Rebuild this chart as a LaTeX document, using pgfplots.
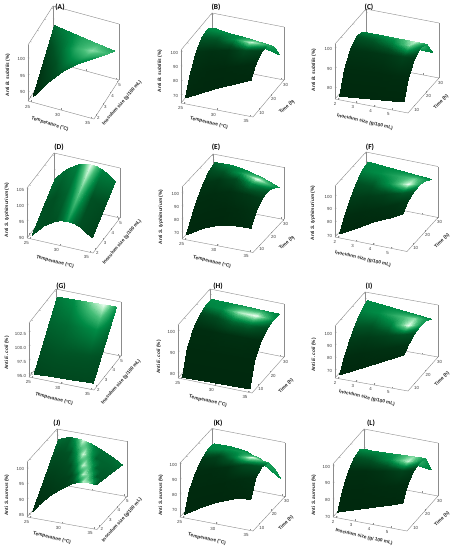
\documentclass[border=0pt]{standalone}
\usepackage{fontspec}
\setmainfont{Liberation Sans}
\newfontfamily\tfont{Carlito}
\usepackage{pgfplots}
\usepgfplotslibrary{patchplots}
\pgfplotsset{compat=1.18}
\definecolor{axg}{RGB}{140,140,140}
\pgfplotsset{
  colormap={grn}{rgb255(0)=(0,38,12) rgb255(30)=(0,80,35) rgb255(55)=(0,140,70) rgb255(75)=(70,190,120) rgb255(90)=(170,235,190) rgb255(100)=(240,255,245)},
  rs/.style n args={9}{
    at={(#1pt,550pt-#2pt)},anchor=origin,
    x={(#3pt/\xspan,-#4pt/\xspan)},y={(#5pt/\yspan,#6pt/\yspan)},z={(0pt,#7pt/(#9-#8))},
    zmin=#8,zmax=#9,
    clip=false,grid=none,colormap name=grn,point meta min=0,point meta max=1,
    axis line style={axg,line width=0.4pt},
    tick style={axg,line width=0.3pt},
    major tick length=1.6pt,
    xtick pos=left,ytick pos=left,ztick pos=left,
    tick label style={font=\fontsize{4.4}{5}\selectfont,text=black!75,inner sep=0.8pt},
    xticklabel style={xshift=-2.5pt,yshift=-1.5pt},
    zticklabel style={xshift=-2pt},
    /pgf/number format/assume math mode=true,
  },
  T/.style={xmin=24.5,xmax=35.5,xtick={25,30,35}},
  I/.style={xmin=1.8,xmax=5.9,xtick={2,3,4,5}},
  Iy/.style={ymin=1.7,ymax=5.2,ytick={2,3,4,5}},
  H/.style={ymin=5,ymax=31,ytick={10,20,30}},
  sf/.style={surf,shader=interp,patch type=bilinear,point meta=explicit,mesh/ordering=y varies,mesh/rows=6,mesh/cols=5},
  sx/.style={surf,shader=interp,patch type=bilinear,point meta=explicit,mesh/rows=#1},
}
\newcommand\Lab[4]{\node[rotate=#3,inner sep=0pt,text=black!85] at (#1pt,550pt-#2pt) {\fontsize{4.8}{5.5}\selectfont\bfseries #4};}
\newcommand\Ttl[3]{\node[inner sep=0pt] at (#1pt,550pt-#2pt) {\tfont\fontsize{7.5}{8}\selectfont\bfseries #3};}
\begin{document}
\begin{tikzpicture}
\path[use as bounding box,fill=white] (0pt,0pt) rectangle (455pt,550pt);
% A
\def\xspan{11}\def\yspan{3.5}
\begin{axis}[rs={28}{101}{66}{18}{25}{39}{56}{87}{103.8},T,Iy,ztick={90,95,100}]
\addplot3[sx=4,mesh/cols=5] table[meta index=3]{
25 2 87.5 .03
27.5 2 93.0 .18
30 2 97.6 .35
32.5 2 101.1 .5
35 2 103.8 .58
25 3 91.2 .10
27.5 3 94.7 .28
30 3 97.5 .52
32.5 3 99.7 .68
35 3 101.2 .68
25 4 95.1 .22
27.5 4 96.4 .42
30 4 97.5 .68
32.5 4 98.2 .85
35 4 98.6 .72
25 5 98.8 .42
27.5 5 98.1 .52
30 5 97.4 .65
32.5 5 96.7 .72
35 5 96.1 .62
};
\end{axis}
% B
\def\xspan{11}\def\yspan{26}
\begin{axis}[rs={181}{103}{72}{14}{31}{37}{53}{64}{101},T,H,ztick={70,80,90,100}]
\addplot3[sf] table[meta index=3]{
25 6 67.0 .02
25 10 79.2 .05
25 15 89.9 .10
25 20 95.5 .35
25 25 96.2 .55
25 30 91.8 .55
27.5 6 72.7 .02
27.5 10 83.6 .03
27.5 15 92.7 .08
27.5 20 96.7 .35
27.5 25 95.8 .55
27.5 30 89.9 .55
30 6 78.4 .02
30 10 88.1 .03
30 15 95.5 .10
30 20 98.0 .55
30 25 95.5 .55
30 30 88.1 .55
32.5 6 83.2 .02
32.5 10 91.6 .04
32.5 15 97.3 .25
32.5 20 98.2 .95
32.5 25 94.2 .7
32.5 30 85.1 .55
35 6 88.2 .02
35 10 95.1 .05
35 15 99.2 .20
35 20 98.4 .65
35 25 92.9 .6
35 30 82.1 .5
};
\end{axis}
% C
\def\xspan{4.1}\def\yspan{26}
\begin{axis}[rs={335}{99}{73}{14}{31}{35}{55}{74}{101.8},I,H,ztick={80,90,100}]
\addplot3[sf] table[meta index=3]{
2 6 75.1 .02
2 10 85.7 .04
2 15 92.3 .1
2 20 95.4 .3
2 25 94.6 .5
2 30 87.9 .55
3 6 76.0 .02
3 10 86.3 .04
3 15 92.8 .1
3 20 95.6 .35
3 25 94.6 .55
3 30 87.7 .55
4 6 76.9 .02
4 10 86.9 .04
4 15 93.2 .12
4 20 95.8 .5
4 25 94.6 .65
4 30 87.5 .55
5 6 77.8 .02
5 10 87.5 .05
5 15 93.7 .2
5 20 96.1 .85
5 25 94.6 .95
5 30 87.2 .55
5.6 6 78.4 .02
5.6 10 87.9 .05
5.6 15 94.0 .15
5.6 20 96.2 .5
5.6 25 94.6 .6
5.6 30 87.1 .5
};
\end{axis}
% D
\def\xspan{11}\def\yspan{3.5}
\begin{axis}[rs={27}{238}{66}{15}{27}{35}{50}{89.5}{105.2},T,Iy,ztick={90,95,100,105}]
\addplot3[sx=3,mesh/cols=8] table[meta index=3]{
25 2 89.7 .3
27 2 93.5 .28
29 2 95.8 .3
30 2 96.3 .4
31 2 96.5 .6
32 2 96.3 .4
33 2 95.6 .28
35 2 93.1 .2
25 3.5 93.9 .3
27 3.5 97.7 .3
29 3.5 100.0 .38
30 3.5 100.5 .55
31 3.5 100.7 .8
32 3.5 100.5 .55
33 3.5 99.8 .3
35 3.5 97.3 .25
25 5 98.0 .42
27 5 101.8 .42
29 5 104.1 .5
30 5 104.6 .75
31 5 104.8 1
32 5 104.6 .75
33 5 103.9 .5
35 5 101.4 .45
};
\end{axis}
% E
\def\xspan{11}\def\yspan{26}
\begin{axis}[rs={182}{239}{71}{13.5}{31}{33}{52}{64.4}{104.4},T,H,ztick={70,80,90,100}]
\addplot3[sf] table[meta index=3]{
25 6 67.0 .02
25 10 75.6 .03
25 15 85.2 .05
25 20 92.4 .1
25 25 97.2 .25
25 30 99.2 .4
27.5 6 74.4 .02
27.5 10 83.2 .03
27.5 15 92.0 .05
27.5 20 97.6 .12
27.5 25 100.0 .35
27.5 30 99.6 .55
30 6 79.2 .02
30 10 88.4 .03
30 15 96.0 .07
30 20 100.4 .25
30 25 100.4 .6
30 30 97.6 .55
32.5 6 81.2 .03
32.5 10 90.0 .05
32.5 15 96.4 .12
32.5 20 99.6 .55
32.5 25 98.0 1
32.5 30 94.0 .65
35 6 81.6 .05
35 10 89.6 .08
35 15 94.8 .15
35 20 96.4 .35
35 25 94.0 .55
35 30 89.2 .55
};
\end{axis}
% F
\def\xspan{4.1}\def\yspan{26}
\begin{axis}[rs={335}{237}{72}{14.5}{31}{34}{51}{68}{107},I,H,ztick={70,80,90,100}]
\addplot3[sf] table[meta index=3]{
2 6 70.0 .02
2 10 78.9 .05
2 15 87.5 .15
2 20 94.5 .3
2 25 99.2 .5
2 30 100.8 .55
3 6 77.0 .02
3 10 84.8 .05
3 15 91.8 .15
3 20 96.9 .35
3 25 99.6 .55
3 30 99.8 .55
4 6 84.8 .03
4 10 90.5 .07
4 15 95.9 .2
4 20 99.2 .6
4 25 100.3 .65
4 30 98.8 .55
5 6 90.6 .05
5 10 96.5 .1
5 15 100.0 .35
5 20 101.5 1
5 25 100.8 .8
5 30 97.8 .55
5.6 6 94.9 .08
5.6 10 100.0 .15
5.6 15 102.7 .35
5.6 20 103.1 .65
5.6 25 101.2 .6
5.6 30 97.3 .5
};
\end{axis}
% G
\def\xspan{11}\def\yspan{3.5}
\begin{axis}[rs={29}{377}{65}{13}{27}{34}{54}{94.4}{104},T,Iy,ztick={95,97.5,100,102.5},zticklabel style={/pgf/number format/fixed,/pgf/number format/precision=1,/pgf/number format/zerofill}]
\addplot3[sx=4,mesh/cols=5] table[meta index=3]{
25 2 94.5 .22
28 2 94.7 .24
31 2 94.8 .24
33 2 94.9 .24
35 2 95.0 .24
25 3 97.3 .3
28 3 97.5 .32
31 3 97.6 .32
33 3 97.7 .32
35 3 97.8 .3
25 4 100.2 .38
28 4 100.3 .41
31 4 100.4 .5
33 4 100.5 .55
35 4 100.6 .42
25 5 103.0 .46
28 5 103.1 .56
31 5 103.2 .85
33 5 103.3 1
35 5 103.3 .6
};
\end{axis}
% H
\def\xspan{11}\def\yspan{26}
\begin{axis}[rs={178}{378}{74}{15}{32}{36}{53}{77.5}{102.5},T,H,ztick={80,90,100}]
\addplot3[sf] table[meta index=3]{
25 6 77.5 .02
25 10 88.8 .03
25 15 94.5 .05
25 20 97.5 .2
25 25 98.8 .5
25 30 98.5 .55
27.5 6 77.8 .02
27.5 10 89.0 .03
27.5 15 94.6 .05
27.5 20 97.5 .25
27.5 25 98.7 .55
27.5 30 98.4 .55
30 6 78.0 .02
30 10 89.1 .03
30 15 94.8 .07
30 20 97.5 .4
30 25 98.6 .9
30 30 98.3 .6
32.5 6 78.2 .02
32.5 10 89.3 .03
32.5 15 94.9 .07
32.5 20 97.5 .4
32.5 25 98.6 1
32.5 30 98.1 .6
35 6 78.5 .02
35 10 89.5 .03
35 15 95.0 .05
35 20 97.5 .25
35 25 98.5 .55
35 30 98.0 .5
};
\end{axis}
% I
\def\xspan{4.1}\def\yspan{26}
\begin{axis}[rs={335}{378}{73}{13}{30}{34}{52}{63}{105},I,H,ztick={70,80,90,100}]
\addplot3[sf] table[meta index=3]{
2 6 64.9 .02
2 10 74.8 .05
2 15 84.0 .15
2 20 91.6 .35
2 25 96.6 .5
2 30 99.5 .55
3 6 72.0 .02
3 10 80.2 .05
3 15 87.8 .15
3 20 93.6 .35
3 25 97.0 .55
3 30 97.9 .55
4 6 78.9 .03
4 10 85.4 .07
4 15 91.4 .2
4 20 95.5 .5
4 25 97.3 .7
4 30 96.3 .55
5 6 86.0 .04
5 10 90.8 .09
5 15 95.2 .3
5 20 97.4 1
5 25 97.7 .85
5 30 94.7 .55
5.6 6 90.3 .06
5.6 10 94.1 .12
5.6 15 97.4 .3
5.6 20 98.7 .6
5.6 25 97.9 .6
5.6 30 93.7 .5
};
\end{axis}
% J
\def\xspan{11}\def\yspan{3.5}
\begin{axis}[rs={27}{517}{70}{12.5}{30}{33}{55}{84}{101.9},T,Iy,ztick={85,90,95,100}]
\addplot3[sx=5,mesh/cols=11] table[meta index=3]{
25 2 84.9 .05
26 2 87.6 .08
27 2 89.7 .1
28 2 91.7 .12
29 2 93.3 .15
30 2 94.7 .18
31 2 96.2 .22
32 2 97.1 .39
33 2 97.6 .92
34 2 97.6 .84
35 2 97.4 .35
25 2.75 88.5 .1
26 2.75 90.7 .13
27 2.75 92.4 .15
28 2.75 93.9 .18
29 2.75 95.1 .2
30 2.75 96.0 .22
31 2.75 96.9 .43
32 2.75 97.3 .93
33 2.75 97.5 .76
34 2.75 97.2 .35
35 2.75 96.8 .33
25 3.5 92.0 .18
26 3.5 93.8 .2
27 3.5 95.2 .22
28 3.5 96.2 .25
29 3.5 96.8 .28
30 3.5 97.2 .51
31 3.5 97.6 .95
32 3.5 97.6 .72
33 3.5 97.3 .38
34 3.5 96.8 .35
35 3.5 96.1 .35
25 4.25 95.6 .28
26 4.25 97.0 .28
27 4.25 97.9 .3
28 4.25 98.4 .32
29 4.25 98.6 .57
30 4.25 98.5 .96
31 4.25 98.3 .65
32 4.25 97.9 .38
33 4.25 97.2 .38
34 4.25 96.4 .38
35 4.25 95.4 .38
25 5 99.1 .42
26 5 100.1 .4
27 5 100.6 .38
28 5 100.6 .64
29 5 100.3 .97
30 5 99.8 .64
31 5 99.0 .45
32 5 98.1 .42
33 5 97.1 .42
34 5 96.0 .42
35 5 94.7 .45
};
\end{axis}
% K
\def\xspan{11}\def\yspan{26}
\begin{axis}[rs={180}{517}{73}{14}{32}{34.5}{54}{64.6}{100.3},T,H,ztick={70,80,90,100}]
\addplot3[sf] table[meta index=3]{
25 6 66.0 .02
25 10 78.2 .03
25 15 85.3 .05
25 20 89.6 .12
25 25 92.1 .5
25 30 91.4 .55
27.5 6 72.5 .02
27.5 10 83.2 .03
27.5 15 89.9 .05
27.5 20 93.5 .2
27.5 25 94.2 .55
27.5 30 91.7 .55
30 6 78.2 .02
30 10 87.1 .03
30 15 93.2 .08
30 20 95.7 .5
30 25 94.9 .6
30 30 90.3 .55
32.5 6 82.5 .02
32.5 10 91.7 .05
32.5 15 96.7 .25
32.5 20 97.4 1
32.5 25 93.2 .65
32.5 30 84.2 .55
35 6 84.4 .03
35 10 95.0 .08
35 15 97.8 .3
35 20 96.0 .6
35 25 87.8 .6
35 30 77.1 .55
};
\end{axis}
% L
\def\xspan{4.1}\def\yspan{26}
\begin{axis}[rs={333}{517}{74}{14}{31}{35}{53}{69}{101},I,H,ztick={70,80,90,100}]
\addplot3[sf] table[meta index=3]{
2 6 71.6 .02
2 10 81.2 .03
2 15 88.8 .06
2 20 93.0 .3
2 25 94.0 .55
2 30 89.8 .55
3 6 75.1 .02
3 10 84.2 .03
3 15 90.9 .06
3 20 94.3 .35
3 25 94.5 .55
3 30 88.2 .55
4 6 78.6 .02
4 10 87.2 .04
4 15 92.8 .1
4 20 95.6 .55
4 25 95.0 .6
4 30 87.2 .55
5 6 82.1 .02
5 10 90.1 .05
5 15 94.9 .2
5 20 96.8 .95
5 25 95.6 .85
5 30 85.8 .55
5.6 6 84.4 .03
5.6 10 92.0 .05
5.6 15 96.2 .15
5.6 20 97.5 .55
5.6 25 95.9 .6
5.6 30 85.0 .5
};
\end{axis}
% labels
\def\Tm{Temperature (°C)}\def\In{Inoculum size (g/100 mL)}\def\Ti{Time (h)}
\Ttl{60}{7}{(A)}\Lab{50}{124}{-18}{\Tm}\Lab{122}{103}{49}{\In}\Lab{8}{75}{90}{Anti \emph{B. subtilis} (\%)}
\Ttl{216}{7}{(B)}\Lab{209}{123}{-14}{\Tm}\Lab{287}{107}{40}{\Ti}\Lab{160}{71}{90}{Anti \emph{B. subtilis} (\%)}
\Ttl{369}{7}{(C)}\Lab{365}{122}{-13}{\In}\Lab{441}{102}{45}{\Ti}\Lab{314}{70}{90}{Anti \emph{B. subtilis} (\%)}
\Ttl{59}{147}{(D)}\Lab{55}{262}{-15}{\Tm}\Lab{122}{242}{50}{\In}\Lab{7}{210}{90}{Anti \emph{S. typhimurium} (\%)}
\Ttl{216}{147}{(E)}\Lab{212}{262}{-14}{\Tm}\Lab{287}{243}{40}{\Ti}\Lab{161}{217}{90}{Anti \emph{S. typhimurium} (\%)}
\Ttl{370}{147}{(F)}\Lab{363}{259}{-13}{\In}\Lab{442}{241}{43}{\Ti}\Lab{313}{213}{90}{Anti \emph{S. typhimurium} (\%)}
\Ttl{61}{286}{(G)}\Lab{54}{399}{-15}{\Tm}\Lab{121}{382}{49}{\In}\Lab{7}{353}{90}{Anti \emph{E. coli} (\%)}
\Ttl{218}{286}{(H)}\Lab{208}{401}{-13}{\Tm}\Lab{286}{386}{45}{\Ti}\Lab{159}{357}{90}{Anti \emph{E. coli} (\%)}
\Ttl{369}{286}{(I)}\Lab{367}{398}{-13}{\In}\Lab{442}{379}{45}{\Ti}\Lab{314}{355}{90}{Anti \emph{E. coli} (\%)}
\Ttl{57}{423}{(J)}\Lab{52}{538}{-14}{\Tm}\Lab{122}{520}{48}{\In}\Lab{7}{495}{90}{Anti \emph{S. aureus} (\%)}
\Ttl{218}{423}{(K)}\Lab{207}{539}{-13}{\Tm}\Lab{286}{523}{45}{\Ti}\Lab{161}{495}{90}{Anti \emph{S. aureus} (\%)}
\Ttl{371}{423}{(L)}\Lab{364}{537}{-13}{Inoculum size (g/ 100 mL)}\Lab{442}{519}{44}{\Ti}\Lab{314}{495}{90}{Anti \emph{S. aureus} (\%)}
\end{tikzpicture}
\end{document}
